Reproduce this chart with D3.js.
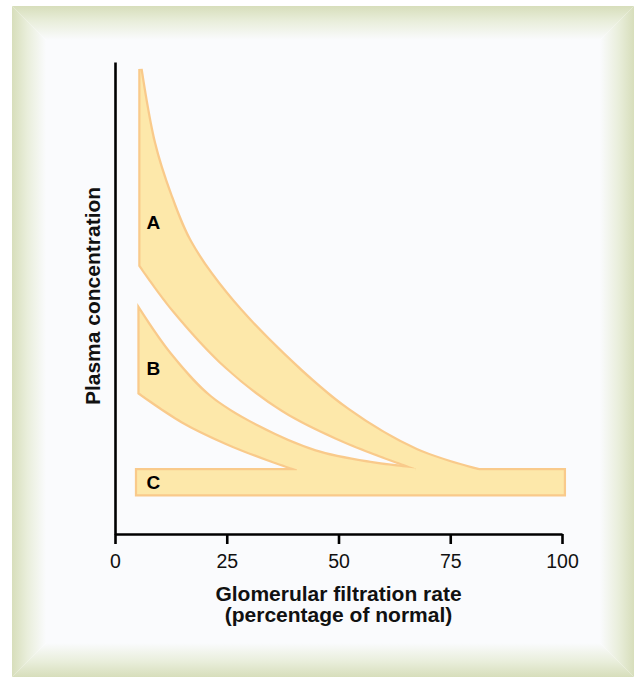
<!DOCTYPE html>
<html lang="en">
<head>
  <meta charset="UTF-8">
  <title>Plasma concentration vs GFR</title>
  <script src="https://d3js.org/d3.v7.min.js"></script>
  <style>
    body { margin: 0; background: #fff; }
    svg { display: block; }
  </style>
</head>
<body>
  <div id="chart"></div>
  <script>
    // x ticks (percentage of normal GFR)
    const xTicks = [0, 25, 50, 75, 100];

    // band edges, [gfr, concentration] with concentration in arbitrary units 0-100
    const aUpper = [[5.7, 98.5], [8.7, 82.9], [12.3, 72.0], [16.8, 61.9], [24.9, 50.9], [37.6, 38.1], [52.1, 26.3], [67.4, 17.8], [81.4, 13.5]];
    const aLower = [[5.7, 56.9], [13.2, 47.3], [24.9, 35.4], [37.6, 26.2], [51.2, 19.7], [67.3, 13.9]];
    const bUpper = [[5.5, 47.3], [12.3, 38.1], [21.3, 29.0], [32.2, 22.6], [44.8, 17.5], [57.5, 15.0], [67.3, 13.9]];
    const bLower = [[5.5, 29.9], [15.0, 23.9], [24.9, 19.3], [34.0, 15.9], [40.7, 13.7]];
    const cRange = [4.95, 100.4];
    const cLevel = [8.4, 13.5];

    const labels = ["A", "B", "C"];
    const labelPos = [[8.6, 66.0], [8.6, 35.1], [8.6, 11.0]];

    const W = 634, H = 677;
    const margin = { top: 62, right: 72, bottom: 143, left: 115 };
    const font = "Liberation Sans, Arial, sans-serif";

    const svg = d3.select("#chart").append("svg")
      .attr("width", W)
      .attr("height", H);

    // ----- frame -----
    const defs = svg.append("defs");
    const green = "#d7debb", panel = "#fafbfd";
    const fx0 = 12, fy0 = 6, fx1 = W, fy1 = H, bw = 34;
    const sides = [
      { id: "gl", pts: [[fx0, fy0], [fx0 + bw, fy0 + bw], [fx0 + bw, fy1 - bw], [fx0, fy1]], g: [0, 0, 1, 0] },
      { id: "gt", pts: [[fx0, fy0], [fx1, fy0], [fx1 - bw, fy0 + bw], [fx0 + bw, fy0 + bw]], g: [0, 0, 0, 1] },
      { id: "gr", pts: [[fx1, fy0], [fx1, fy1], [fx1 - bw, fy1 - bw], [fx1 - bw, fy0 + bw]], g: [1, 0, 0, 0] },
      { id: "gb", pts: [[fx0, fy1], [fx1, fy1], [fx1 - bw, fy1 - bw], [fx0 + bw, fy1 - bw]], g: [0, 1, 0, 0] }
    ];
    sides.forEach(s => {
      const lg = defs.append("linearGradient").attr("id", s.id)
        .attr("x1", s.g[0]).attr("y1", s.g[1]).attr("x2", s.g[2]).attr("y2", s.g[3]);
      lg.append("stop").attr("offset", 0).attr("stop-color", green);
      lg.append("stop").attr("offset", 0.45).attr("stop-color", "#e9eedb");
      lg.append("stop").attr("offset", 1).attr("stop-color", panel);
    });
    svg.append("rect")
      .attr("x", fx0 + bw).attr("y", fy0 + bw)
      .attr("width", fx1 - fx0 - 2 * bw).attr("height", fy1 - fy0 - 2 * bw)
      .attr("fill", panel);
    svg.selectAll(".side").data(sides).enter().append("polygon")
      .attr("points", d => d.pts.map(p => p.join(",")).join(" "))
      .attr("fill", d => `url(#${d.id})`);

    // ----- scales -----
    const x = d3.scaleLinear().domain([0, 100]).range([margin.left, W - margin.right]);
    const y = d3.scaleLinear().domain([0, 100]).range([H - margin.bottom, margin.top]);

    const curve = d3.line()
      .x(d => x(d[0])).y(d => y(d[1]))
      .curve(d3.curveCatmullRom.alpha(0.5));
    const pt = d => `L${x(d[0])},${y(d[1])}`;
    const cMid = (cLevel[0] + cLevel[1]) / 2;

    // band: upper edge, dip into C, lower edge back, close along the vertical left side
    function band(upper, lower) {
      const uEnd = upper[upper.length - 1], lEnd = lower[lower.length - 1];
      return curve(upper) + pt([uEnd[0], cMid]) + pt([lEnd[0], cMid]) + pt(lEnd) +
        curve(lower.slice().reverse()).replace(/^M/, "L") + "Z";
    }
    const cPath = "M" + [[cRange[0], cLevel[0]], [cRange[1], cLevel[0]], [cRange[1], cLevel[1]], [cRange[0], cLevel[1]]]
      .map(d => `${x(d[0])},${y(d[1])}`).join("L") + "Z";

    const shapes = [band(aUpper, aLower), band(bUpper, bLower), cPath];

    const fill = "#fde8aa", edge = "#f9ca8b";
    // outline pass, then fill pass so the outline only shows around the union
    svg.append("g").selectAll("path").data(shapes).enter().append("path")
      .attr("d", d => d)
      .attr("fill", fill)
      .attr("stroke", edge)
      .attr("stroke-width", 4.5)
      .attr("stroke-linejoin", "miter");
    svg.append("g").selectAll("path").data(shapes).enter().append("path")
      .attr("d", d => d)
      .attr("fill", fill);

    svg.selectAll(".lbl").data(labels).enter().append("text")
      .attr("x", (d, i) => x(labelPos[i][0]))
      .attr("y", (d, i) => y(labelPos[i][1]))
      .attr("dy", "0.36em")
      .attr("text-anchor", "middle")
      .attr("font-family", font)
      .attr("font-weight", "bold")
      .attr("font-size", "19px")
      .text(d => d);

    // ----- axes -----
    const xAxis = svg.append("g")
      .attr("transform", `translate(0,${y(0)})`)
      .call(d3.axisBottom(x).tickValues(xTicks).tickSize(10).tickSizeOuter(0).tickPadding(10));
    const yAxis = svg.append("g")
      .attr("transform", `translate(${x(0)},0)`)
      .call(d3.axisLeft(y).tickValues([]).tickSizeOuter(0));

    [xAxis, yAxis].forEach(g => {
      g.selectAll("path, line").attr("stroke", "#000").attr("stroke-width", 2.6);
    });
    xAxis.selectAll("text")
      .attr("font-family", font)
      .attr("font-size", "19.5px")
      .attr("fill", "#111");

    const xMid = (x(0) + x(100)) / 2;
    const title = svg.append("text")
      .attr("text-anchor", "middle")
      .attr("font-family", font)
      .attr("font-weight", "bold")
      .attr("font-size", "21px")
      .attr("fill", "#111");
    title.append("tspan").attr("x", xMid).attr("y", 601).text("Glomerular filtration rate");
    title.append("tspan").attr("x", xMid).attr("y", 622).text("(percentage of normal)");

    svg.append("text")
      .attr("transform", `translate(100,${(y(0) + y(100)) / 2 - 2}) rotate(-90)`)
      .attr("text-anchor", "middle")
      .attr("font-family", font)
      .attr("font-weight", "bold")
      .attr("font-size", "21px")
      .attr("fill", "#111")
      .text("Plasma concentration");
  </script>
</body>
</html>
